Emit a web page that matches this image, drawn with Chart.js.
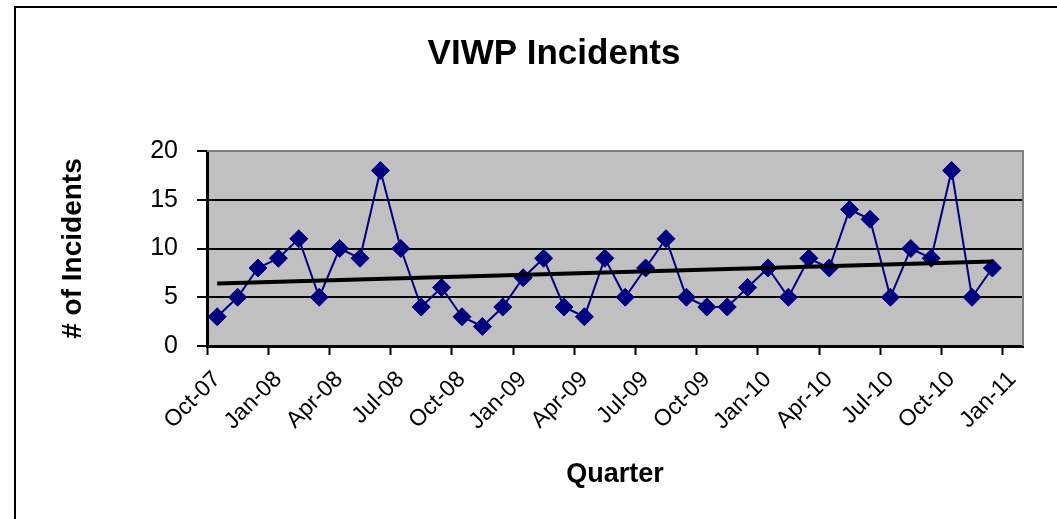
<!DOCTYPE html>
<html>
<head>
<meta charset="utf-8">
<script src="https://cdn.jsdelivr.net/npm/chart.js@4.4.0/dist/chart.umd.min.js"></script>
<style>
  html, body { margin: 0; padding: 0; background: #fff; }
  #wrap { position: relative; width: 1057px; height: 519px; overflow: hidden; }
  #frame { position: absolute; left: 14px; top: 6px; width: 1100px; height: 600px; border: 2px solid #000; }
  #chart { position: absolute; left: 0; top: 0; }
</style>
</head>
<body>
<div id="wrap">
  <div id="frame"></div>
  <canvas id="chart" width="1057" height="519"></canvas>
</div>
<script>
// monthly counts, Oct-07 .. Dec-10
const months = [
    'Oct-07', 'Nov-07', 'Dec-07', 'Jan-08', 'Feb-08', 'Mar-08', 'Apr-08', 'May-08', 'Jun-08',
    'Jul-08', 'Aug-08', 'Sep-08', 'Oct-08', 'Nov-08', 'Dec-08', 'Jan-09', 'Feb-09', 'Mar-09',
    'Apr-09', 'May-09', 'Jun-09', 'Jul-09', 'Aug-09', 'Sep-09', 'Oct-09', 'Nov-09', 'Dec-09',
    'Jan-10', 'Feb-10', 'Mar-10', 'Apr-10', 'May-10', 'Jun-10', 'Jul-10', 'Aug-10', 'Sep-10',
    'Oct-10', 'Nov-10', 'Dec-10'
];
const incidents = [
    3, 5, 8, 9, 11, 5, 10, 9, 18,
    10, 4, 6, 3, 2, 4, 7, 9, 4,
    3, 9, 5, 8, 11, 5, 4, 4, 6,
    8, 5, 9, 8, 14, 13, 5, 10, 9,
    18, 5, 8
];
const quarterLabels = [
    'Oct-07', 'Jan-08', 'Apr-08', 'Jul-08', 'Oct-08', 'Jan-09', 'Apr-09',
    'Jul-09', 'Oct-09', 'Jan-10', 'Apr-10', 'Jul-10', 'Oct-10', 'Jan-11'
];
const yTicks = [0, 5, 10, 15, 20];

const fontFamily = '"Liberation Sans", Arial, sans-serif';

// each month plotted at its middle
const points = incidents.map((v, i) => ({ x: i + 0.5, y: v }));

// linear trend (least squares) like the spreadsheet trendline
const n = points.length;
const mx = points.reduce((s, p) => s + p.x, 0) / n;
const my = points.reduce((s, p) => s + p.y, 0) / n;
let sxy = 0, sxx = 0;
points.forEach(p => { sxy += (p.x - mx) * (p.y - my); sxx += (p.x - mx) * (p.x - mx); });
const slope = sxy / sxx;
const intercept = my - slope * mx;
const trend = [points[0].x, points[n - 1].x].map(x => ({ x: x, y: intercept + slope * x }));

const plotBg = {
    id: 'plotBg',
    beforeDraw(chart) {
        const { ctx, chartArea: a } = chart;
        ctx.save();
        ctx.fillStyle = '#c0c0c0';
        ctx.fillRect(a.left, a.top, a.right - a.left, a.bottom - a.top);
        // chart title, centred like the original (not on the plot)
        ctx.fillStyle = '#000';
        ctx.font = 'bold 35px ' + fontFamily;
        ctx.textAlign = 'center';
        ctx.textBaseline = 'alphabetic';
        ctx.fillText('VIWP Incidents', 554, 64);
        ctx.restore();
    },
    beforeDatasetsDraw(chart) {
        const { ctx, chartArea: a } = chart;
        ctx.save();
        ctx.strokeStyle = '#808080';
        ctx.lineWidth = 2;
        ctx.beginPath();
        ctx.moveTo(a.left, a.top);
        ctx.lineTo(a.right, a.top);
        ctx.lineTo(a.right, a.bottom);
        ctx.stroke();
        ctx.restore();
    }
};

new Chart(document.getElementById('chart'), {
    type: 'line',
    data: {
        datasets: [
            {
                label: 'Trend',
                data: trend,
                borderColor: '#000000',
                borderWidth: 4,
                pointRadius: 0,
                order: 0
            },
            {
                label: 'Incidents',
                data: points,
                borderColor: '#000080',
                backgroundColor: '#000080',
                borderWidth: 2,
                tension: 0,
                pointStyle: 'rectRot',
                pointRadius: 9,
                pointBorderWidth: 1,
                order: 1
            }
        ]
    },
    options: {
        responsive: false,
        animation: false,
        layout: { padding: { left: 0, top: 151, right: 34, bottom: 0 } },
        scales: {
            x: {
                type: 'linear',
                min: 0,
                max: 40,
                afterFit(scale) { scale.height = 173; },
                border: { color: '#000', width: 3 },
                grid: { drawOnChartArea: false, tickLength: 9, tickColor: '#000', tickWidth: 2 },
                ticks: {
                    stepSize: 3,
                    includeBounds: false,
                    autoSkip: false,
                    maxRotation: 45,
                    minRotation: 45,
                    padding: 11,
                    labelOffset: 10,
                    color: '#000',
                    font: { family: fontFamily, size: 23 },
                    callback: (v) => quarterLabels[v / 3]
                },
                title: {
                    display: true,
                    text: 'Quarter',
                    color: '#000',
                    font: { family: fontFamily, size: 27, weight: 'bold' },
                    padding: { top: 0, bottom: 28 }
                }
            },
            y: {
                min: 0,
                max: 20,
                afterFit(scale) { scale.width = 207; },
                afterBuildTicks(scale) { scale.ticks = yTicks.map(v => ({ value: v })); },
                border: { color: '#000', width: 3 },
                grid: {
                    color: (c) => (c.tick && (c.tick.value === 20 || c.tick.value === 0)) ? 'rgba(0,0,0,0)' : '#000',
                    lineWidth: 2,
                    tickLength: 10,
                    tickColor: '#000',
                    tickWidth: 2
                },
                ticks: {
                    padding: 19,
                    color: '#000',
                    font: { family: fontFamily, size: 25 }
                },
                title: {
                    display: true,
                    text: '# of Incidents',
                    color: '#000',
                    font: { family: fontFamily, size: 28, weight: 'bold' },
                    padding: { top: 56, bottom: 0 }
                }
            }
        },
        plugins: {
            legend: { display: false },
            tooltip: { enabled: false },
            title: { display: false }
        }
    },
    plugins: [plotBg]
});
</script>
</body>
</html>
